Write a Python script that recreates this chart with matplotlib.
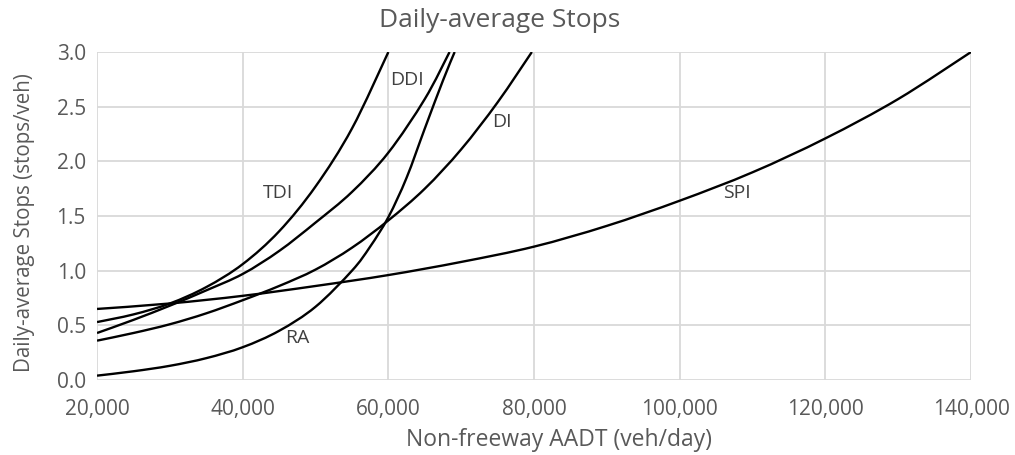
import matplotlib
matplotlib.use("Agg")
import matplotlib.pyplot as plt
from matplotlib.path import Path
from matplotlib.patches import PathPatch
from matplotlib.ticker import FuncFormatter

plt.rcParams['font.family'] = ['Open Sans', 'DejaVu Sans']

# Data
x_tdi = [20000, 25000, 30000, 35000, 40000, 45000, 50000, 55000, 60000]
y_tdi = [0.53, 0.60, 0.70, 0.85, 1.06, 1.36, 1.77, 2.30, 3.00]

x_ddi = [20000, 25000, 30000, 35000, 40000, 45000, 50000, 55000, 60000, 65000, 68400]
y_ddi = [0.43, 0.55, 0.68, 0.82, 0.97, 1.18, 1.44, 1.72, 2.08, 2.57, 3.00]

x_di = [20000, 25000, 30000, 35000, 40000, 45000, 50000, 55000, 60000, 65000, 70000, 75000, 79700]
y_di = [0.36, 0.43, 0.51, 0.61, 0.73, 0.86, 1.01, 1.21, 1.46, 1.75, 2.11, 2.54, 3.00]

x_spi = [20000, 30000, 40000, 50000, 60000, 70000, 80000, 90000, 100000, 110000, 120000, 130000, 140000]
y_spi = [0.65, 0.70, 0.77, 0.86, 0.96, 1.08, 1.22, 1.41, 1.64, 1.90, 2.21, 2.57, 3.00]

x_ra = [20000, 25000, 30000, 35000, 40000, 45000, 50000, 55000, 57500, 60000, 62500, 65000, 67500, 69100]
y_ra = [0.04, 0.08, 0.13, 0.20, 0.30, 0.45, 0.67, 1.00, 1.22, 1.49, 1.85, 2.30, 2.74, 3.00]

labels = ["TDI", "DDI", "DI", "SPI", "RA"]
label_x = [44850, 62550, 75600, 107850, 47450]
label_y = [1.71, 2.74, 2.36, 1.71, 0.38]

x_ticks = [20000, 40000, 60000, 80000, 100000, 120000, 140000]
y_ticks = [0.0, 0.5, 1.0, 1.5, 2.0, 2.5, 3.0]


def smooth_path(xs, ys, ax):
    """Smoothed line through the data points (Catmull-Rom drawn as cubic Beziers),
    like a spreadsheet 'smoothed line'."""
    pts = ax.transData.transform(list(zip(xs, ys)))
    n = len(pts)
    verts = [tuple(pts[0])]
    codes = [Path.MOVETO]
    for i in range(n - 1):
        p0 = pts[i - 1] if i > 0 else pts[i]
        p1 = pts[i]
        p2 = pts[i + 1]
        p3 = pts[i + 2] if i + 2 < n else pts[i + 1]
        c1 = p1 + (p2 - p0) / 6.0
        c2 = p2 - (p3 - p1) / 6.0
        verts += [tuple(c1), tuple(c2), tuple(p2)]
        codes += [Path.CURVE4] * 3
    inv = ax.transData.inverted()
    verts = inv.transform(verts)
    return Path(verts, codes)


fig = plt.figure(figsize=(10.15, 4.55), dpi=100)
ax = fig.add_axes([0.0956, 0.1648, 0.8611, 0.7209])
ax.set_xlim(20000, 140000)
ax.set_ylim(0, 3.0)

for xs, ys in [(x_tdi, y_tdi), (x_ddi, y_ddi), (x_di, y_di), (x_spi, y_spi), (x_ra, y_ra)]:
    patch = PathPatch(smooth_path(xs, ys, ax), facecolor='none', edgecolor='black',
                      lw=1.7, capstyle='butt', zorder=3)
    ax.add_patch(patch)

for t, lx, ly in zip(labels, label_x, label_y):
    ax.text(lx, ly, t, ha='center', va='center', fontsize=14, color='#404040', zorder=4)

ax.set_xticks(x_ticks)
ax.set_yticks(y_ticks)
ax.xaxis.set_major_formatter(FuncFormatter(lambda v, p: f"{int(v):,}"))
ax.yaxis.set_major_formatter(FuncFormatter(lambda v, p: f"{v:.1f}"))
ax.grid(True, color='#d9d9d9', lw=1.3, zorder=0)
ax.set_axisbelow(True)
for s in ax.spines.values():
    s.set_visible(False)
ax.tick_params(length=0, labelsize=15, labelcolor='#595959')
ax.tick_params(axis='x', pad=14)
ax.tick_params(axis='y', pad=8)

fig.text(0.492, 0.955, "Daily-average Stops", ha='center', va='center',
         fontsize=19, color='#595959')
ax.set_xlabel("Non-freeway AADT (veh/day)", fontsize=16.5, color='#595959', va='center')
ax.set_ylabel("Daily-average Stops (stops/veh)", fontsize=14.8, color='#595959', va='center')
ax.xaxis.set_label_coords(0.5285, -0.183)
ax.yaxis.set_label_coords(-0.0835, 0.48)

fig.savefig("out.png", dpi=100)
